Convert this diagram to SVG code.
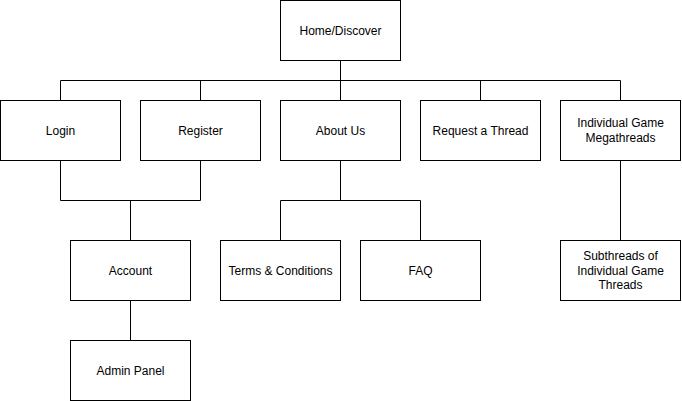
<svg xmlns="http://www.w3.org/2000/svg" width="682" height="401" viewBox="0 0 682 401">
<style>
.box{fill:#fff;stroke:#000;stroke-width:1}
.lbl{font-family:"Liberation Sans",Arial,Helvetica,sans-serif;font-size:12px;fill:#000;text-anchor:middle}
.conn{fill:none;stroke:#000;stroke-width:1}
</style>
<rect width="682" height="401" fill="#fff"/>
<g id="connectors" class="conn">
<path d="M340.5 60.5V80.5M60.5 80.5H620.5M60.5 80.5V100.5M200.5 80.5V100.5M340.5 80.5V100.5M480.5 80.5V100.5M620.5 80.5V100.5"/>
<path d="M60.5 160.5V200.5H200.5V160.5M130.5 200.5V240.5"/>
<path d="M340.5 160.5V200.5M280.5 240.5V200.5H420.5V240.5"/>
<path d="M620.5 160.5V240.5"/>
<path d="M130.5 300.5V340.5"/>
</g>
<g id="home"><rect class="box" x="280.5" y="0.5" width="120" height="60"/><text class="lbl" x="340.5" y="34.5">Home/Discover</text></g>
<g id="login"><rect class="box" x="0.5" y="100.5" width="120" height="60"/><text class="lbl" x="60.5" y="134.5">Login</text></g>
<g id="register"><rect class="box" x="140.5" y="100.5" width="120" height="60"/><text class="lbl" x="200.5" y="134.5">Register</text></g>
<g id="about"><rect class="box" x="280.5" y="100.5" width="120" height="60"/><text class="lbl" x="340.5" y="134.5">About Us</text></g>
<g id="request"><rect class="box" x="420.5" y="100.5" width="120" height="60"/><text class="lbl" x="480.5" y="134.5">Request a Thread</text></g>
<g id="megathreads"><rect class="box" x="560.5" y="100.5" width="120" height="60"/><text class="lbl" x="620.5" y="127">Individual Game</text><text class="lbl" x="620.5" y="142">Megathreads</text></g>
<g id="account"><rect class="box" x="70.5" y="240.5" width="120" height="60"/><text class="lbl" x="130.5" y="274.5">Account</text></g>
<g id="terms"><rect class="box" x="220.5" y="240.5" width="120" height="60"/><text class="lbl" x="280.5" y="274.5">Terms &amp; Conditions</text></g>
<g id="faq"><rect class="box" x="360.5" y="240.5" width="120" height="60"/><text class="lbl" x="420.5" y="274.5">FAQ</text></g>
<g id="subthreads"><rect class="box" x="560.5" y="240.5" width="120" height="60"/><text class="lbl" x="620.5" y="260">Subthreads of</text><text class="lbl" x="620.5" y="274.5">Individual Game</text><text class="lbl" x="620.5" y="289">Threads</text></g>
<g id="admin"><rect class="box" x="70.5" y="340.5" width="120" height="60"/><text class="lbl" x="130.5" y="374.5">Admin Panel</text></g>
</svg>
